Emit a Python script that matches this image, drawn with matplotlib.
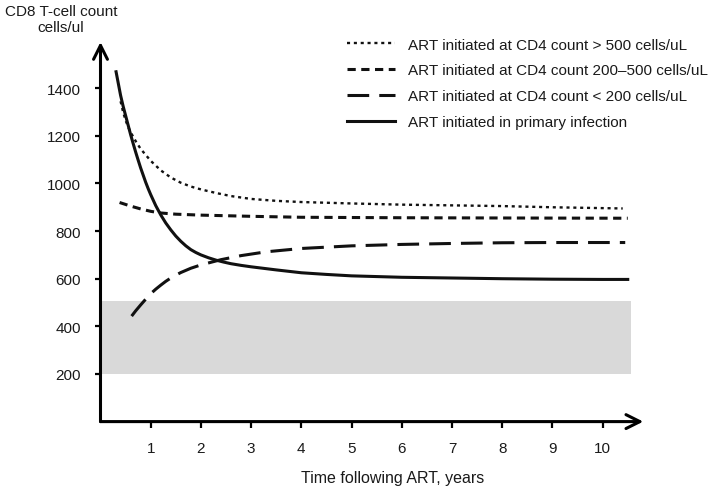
import matplotlib
matplotlib.use("Agg")
import matplotlib.pyplot as plt

plt.rcParams['font.family'] = ['Liberation Sans', 'DejaVu Sans']
plt.rcParams['font.size'] = 11

# ---- data ----
labels = [
    "ART initiated at CD4 count > 500 cells/uL",
    "ART initiated at CD4 count 200\u2013500 cells/uL",
    "ART initiated at CD4 count < 200 cells/uL",
    "ART initiated in primary infection",
]

x_gt500 = [0.4, 0.45, 0.5, 0.55, 0.6, 0.7, 0.8, 1.0, 1.2, 1.4, 1.6, 1.8, 2.0, 2.3, 2.6,
           3.0, 3.5, 4.0, 5.0, 6.0, 7.0, 8.0, 9.0, 10.4]
y_gt500 = [1345, 1300, 1265, 1238, 1215, 1178, 1145, 1095, 1055, 1025, 1003, 987, 975, 960, 947,
           935, 927, 922, 916, 911, 908, 905, 900, 895]

x_200_500 = [0.38, 0.6, 0.8, 1.0, 1.2, 1.5, 2.0, 3.0, 4.0, 6.0, 8.0, 10.5]
y_200_500 = [920, 905, 893, 883, 876, 871, 867, 862, 858, 856, 855, 854]

x_lt200 = [0.62, 0.7, 0.8, 0.9, 1.0, 1.1, 1.2, 1.3, 1.4, 1.5, 1.6, 1.8, 2.0, 2.4, 2.8,
           3.3, 4.0, 5.0, 6.0, 7.0, 8.0, 9.0, 10.45]
y_lt200 = [443, 465, 490, 514, 537, 556, 573, 589, 603, 615, 626, 644, 658, 680, 697,
           713, 727, 738, 744, 748, 751, 752, 752]

x_primary = [0.31, 0.35, 0.4, 0.45, 0.5, 0.55, 0.6, 0.65, 0.7, 0.75, 0.8, 0.85, 0.9, 0.95,
             1.0, 1.1, 1.2, 1.3, 1.4, 1.5, 1.6, 1.7, 1.8, 1.9, 2.0, 2.15, 2.3, 2.45,
             2.6, 2.8, 3.0, 3.5, 4.0, 4.5, 5.0, 6.0, 7.0, 8.0, 9.0, 10.0, 10.5]
y_primary = [1469, 1425, 1370, 1325, 1285, 1245, 1205, 1168, 1132, 1098, 1065, 1035, 1005, 978,
             953, 907, 868, 834, 805, 779, 757, 738, 722, 710, 700, 688, 678, 670,
             663, 656, 650, 637, 625, 618, 612, 606, 603, 600, 598, 597, 597]

band_x = [0, 10.56]
band_low = 200
band_high = 508

x_ticks = [1, 2, 3, 4, 5, 6, 7, 8, 9, 10]
y_ticks = [200, 400, 600, 800, 1000, 1200, 1400]

# ---- figure ----
fig = plt.figure(figsize=(7.23, 4.89), dpi=100)
ax = fig.add_axes([100.5 / 723, 1 - 422.6 / 489, 542.8 / 723, 379.6 / 489])
ax.set_xlim(0, 10.81)
ax.set_ylim(0, 1594)

ax.fill_between(band_x, band_low, band_high, color='#d9d9d9', lw=0, zorder=0)

ink = '#111111'
ax.plot(x_gt500, y_gt500, color=ink, lw=1.7, linestyle=(0, (1.3, 1.6)), label=labels[0])
ax.plot(x_200_500, y_200_500, color=ink, lw=2.2, linestyle=(0, (2.7, 1.8)), label=labels[1])
ax.plot(x_lt200, y_lt200, color=ink, lw=2.2, linestyle=(0, (7.1, 3.3)), label=labels[2])
ax.plot(x_primary, y_primary, color=ink, lw=2.2, linestyle='-', label=labels[3],
        solid_joinstyle='round')

for s in ax.spines.values():
    s.set_visible(False)

arrow = dict(arrowstyle='->,head_length=0.5,head_width=0.25', lw=2.2, color='black',
             shrinkA=0, shrinkB=0, mutation_scale=20)
ax.annotate('', xy=(1, 0), xytext=(0, 0), xycoords='axes fraction',
            textcoords='axes fraction', arrowprops=arrow, annotation_clip=False)
ax.annotate('', xy=(0, 1), xytext=(0, 0), xycoords='axes fraction',
            textcoords='axes fraction', arrowprops=arrow, annotation_clip=False)

ax.set_xticks(x_ticks)
ax.set_yticks(y_ticks)
ax.tick_params(axis='both', direction='out', length=4.5, width=1.6, color='black',
               labelsize=11, labelcolor='#1a1a1a', pad=9.5)

fig.text(393 / 723, 1 - 483 / 489, 'Time following ART, years', ha='center',
         va='baseline', fontsize=11.5, color='#1a1a1a')
fig.text(61 / 723, 1 - 4.5 / 489, 'CD8 T-cell count\ncells/ul', ha='center', va='top',
         fontsize=11, color='#1a1a1a', multialignment='center')

leg = ax.legend(loc='upper left', bbox_to_anchor=(347 / 723, 1 - 38.5 / 489),
                bbox_transform=fig.transFigure, frameon=False, borderpad=0,
                borderaxespad=0, handlelength=3.15, handletextpad=0.85,
                labelspacing=0.78, fontsize=11)
for t in leg.get_texts():
    t.set_color('#1a1a1a')

fig.savefig('out.png', dpi=100)
